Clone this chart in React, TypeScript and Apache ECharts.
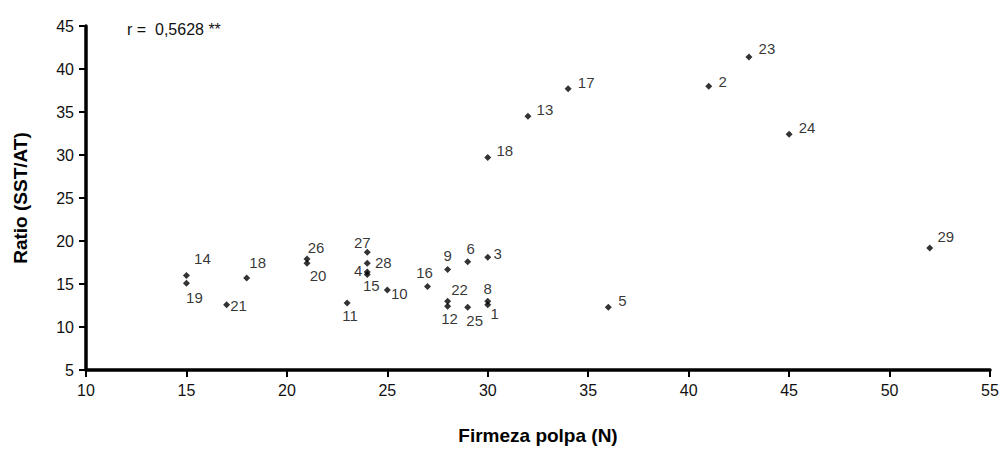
import React, { useEffect, useRef } from "react";
import * as echarts from "echarts";

const pointIds = ["1", "2", "3", "4", "5", "6", "8", "9", "10", "11", "12", "13", "14", "15", "16", "17", "18", "18", "19", "20", "21", "22", "23", "24", "25", "26", "27", "28", "29"];
const firmeza = [30, 41, 30, 24, 36, 29, 30, 28, 25, 23, 28, 32, 15, 24, 27, 34, 30, 18, 15, 21, 17, 28, 43, 45, 29, 21, 24, 24, 52];
const ratio = [12.6, 38.0, 18.1, 16.4, 12.3, 17.6, 13.0, 16.7, 14.3, 12.8, 12.4, 34.5, 16.0, 16.1, 14.7, 37.7, 29.7, 15.7, 15.1, 17.4, 12.6, 13.0, 41.4, 32.4, 12.3, 17.9, 18.7, 17.4, 19.2];
// label placement offsets (px) relative to each marker, in same order
const labelOffsets = [
  [7, 9], [14, -5], [10, -4], [-9, -1], [14, -7], [3, -13], [0, -13], [0, -14], [12, 3], [3, 13],
  [2, 12], [17, -7], [16, -17], [4, 11], [-3, -14], [18, -6], [17, -7], [11, -15], [8, 14], [11, 12],
  [12, 1], [12, -12], [18, -8], [18, -7], [7, 13], [9, -12], [-5, -10], [16, -1], [16, -11],
];

const xTicks = { min: 10, max: 55, interval: 5 };
const yTicks = { min: 5, max: 45, interval: 5 };
const corrText = "r =  0,5628 **";
const xTitle = "Firmeza polpa (N)";
const yTitle = "Ratio (SST/AT)";

const FONT = "Liberation Sans, Arial, sans-serif";

export default function App() {
  const ref = useRef<HTMLDivElement>(null);
  useEffect(() => {
    if (!ref.current) return;
    const chart = echarts.init(ref.current, undefined, { renderer: "svg" });
    const data = firmeza.map((x, i) => ({
      name: pointIds[i],
      value: [x, ratio[i]],
      label: { offset: labelOffsets[i] },
    }));
    chart.setOption({
      animation: false,
      backgroundColor: "#fff",
      grid: { left: 86, right: 14, top: 26, bottom: 81, containLabel: false },
      xAxis: {
        type: "value",
        min: xTicks.min,
        max: xTicks.max,
        interval: xTicks.interval,
        name: xTitle,
        nameLocation: "middle",
        nameGap: 56,
        nameTextStyle: { fontFamily: FONT, fontWeight: "bold", fontSize: 19, color: "#000" },
        axisLine: { onZero: false, lineStyle: { color: "#000", width: 3.5 } },
        axisTick: { show: true, length: 7, lineStyle: { color: "#000", width: 2 } },
        axisLabel: { fontFamily: FONT, fontSize: 16, color: "#111", margin: 12 },
        splitLine: { show: false },
      },
      yAxis: {
        type: "value",
        min: yTicks.min,
        max: yTicks.max,
        interval: yTicks.interval,
        name: yTitle,
        nameLocation: "middle",
        nameGap: 56,
        nameTextStyle: { fontFamily: FONT, fontWeight: "bold", fontSize: 19, color: "#000" },
        axisLine: { show: true, onZero: false, lineStyle: { color: "#000", width: 3.5 } },
        axisTick: { show: true, length: 7, lineStyle: { color: "#000", width: 2 } },
        axisLabel: { fontFamily: FONT, fontSize: 16, color: "#111", margin: 12 },
        splitLine: { show: false },
      },
      graphic: [
        {
          type: "text",
          left: 127,
          top: 21,
          style: { text: corrText, fontFamily: FONT, fontSize: 16, fill: "#111" },
        },
      ],
      series: [
        {
          type: "scatter",
          symbol: "diamond",
          symbolSize: 7,
          itemStyle: { color: "#000" },
          data,
          label: {
            show: true,
            position: "inside",
            formatter: (p: any) => p.name,
            fontFamily: FONT,
            fontSize: 15,
            color: "#000",
            textBorderWidth: 0,
            align: "center",
            verticalAlign: "middle",
          },
        },
      ],
    });
    return () => chart.dispose();
  }, []);
  return <div ref={ref} style={{ position: "fixed", left: 0, top: 0, width: 1004, height: 451 }} />;
}
